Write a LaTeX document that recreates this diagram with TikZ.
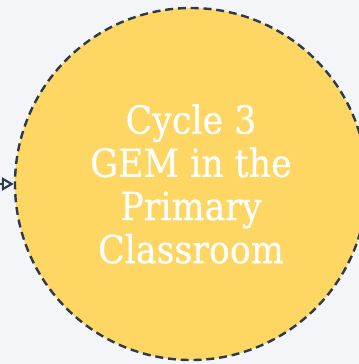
\documentclass[tikz,border=0pt]{standalone}
\usepackage{fontspec}
\setmainfont{DejaVu Serif}[FakeStretch=0.9,FakeBold=0.4]
\usetikzlibrary{arrows.meta}

\definecolor{pagebg}{RGB}{243,245,248}
\definecolor{cycleyellow}{RGB}{253,214,99}
\definecolor{edgeslate}{RGB}{45,58,74}

\begin{document}
\begin{tikzpicture}[x=0.75pt,y=0.75pt,yscale=-1,xscale=1]
\tikzset{
  cyclenode/.style={circle,draw=edgeslate,line width=1.8pt,fill=cycleyellow,
    dash pattern={on 6pt off 3.6pt},minimum size=264pt,inner sep=0pt,
    text=white,align=center,font=\fontsize{29}{32.4}\selectfont},
  linkarrow/.style={draw=edgeslate,line width=1.6pt,
    -{Triangle[open,length=9pt,width=10pt]}}
}
%Shape: Background
\fill [pagebg] (0,0) rectangle (359,364);
\useasboundingbox (0,0) rectangle (359,364);
\clip (0,0) rectangle (359,364);

%Shape: Circle
\node [cyclenode] (cycle) at (191,184) {Cycle 3\\GEM in the\\Primary\\Classroom};

%Straight Lines
\coordinate (feed) at (-30,184);
\draw [linkarrow] (feed) -- (cycle.west);
\end{tikzpicture}
\end{document}
